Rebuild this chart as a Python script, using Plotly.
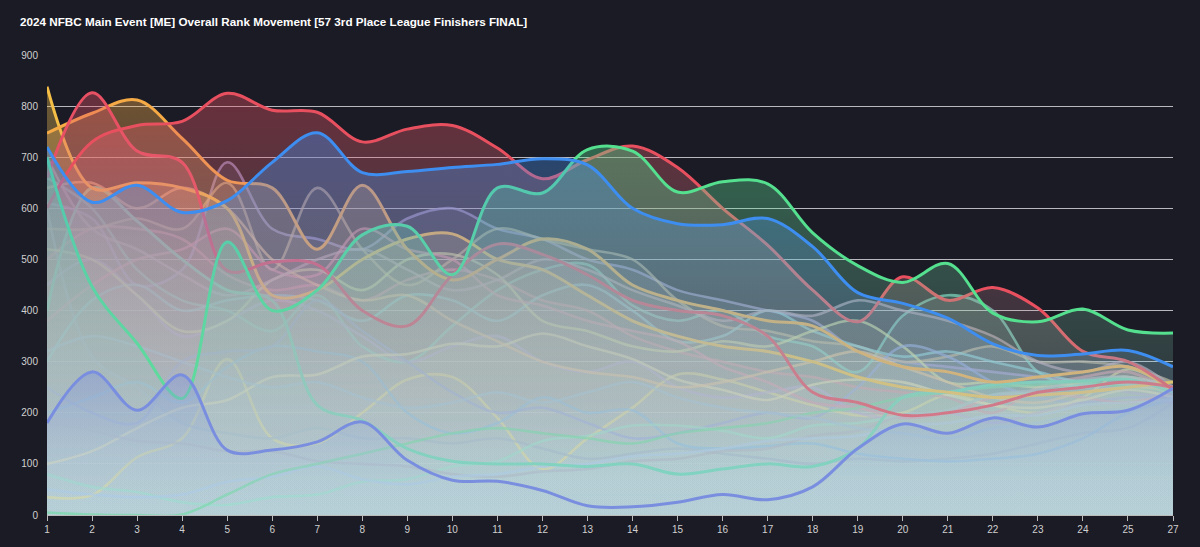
#!/usr/bin/env python3
# -*- coding: utf-8 -*-

import plotly.graph_objects as go

# week labels on the x axis (week 26 is missing in the source)
weeks = [str(w) for w in range(1, 26)] + ['27']

# highlighted teams (one per week)
red_a = [600, 730, 762, 770, 825, 792, 788, 730, 755, 762, 718, 658, 695,
         722, 680, 600, 528, 440, 378, 466, 420, 445, 405, 320, 300, 245]
red_b = [660, 826, 712, 690, 478, 495, 490, 400, 370, 470, 530, 510, 470,
         420, 400, 390, 350, 240, 220, 195, 200, 215, 240, 250, 260, 250]
orange = [747, 786, 812, 737, 655, 640, 520, 645, 520, 460, 500, 540, 520,
          450, 420, 400, 380, 370, 320, 290, 280, 260, 270, 280, 290, 245]
yellow = [838, 640, 650, 640, 600, 430, 440, 500, 540, 550, 500, 480, 430,
          380, 350, 330, 320, 300, 270, 250, 240, 230, 235, 240, 250, 260]
blue = [720, 612, 645, 592, 615, 690, 748, 670, 672, 680, 686, 697, 685,
        600, 570, 568, 580, 525, 435, 414, 385, 335, 312, 315, 322, 290]
green = [700, 447, 336, 228, 534, 400, 440, 548, 565, 470, 640, 630, 715,
         712, 632, 652, 648, 552, 488, 455, 492, 395, 378, 403, 362, 356]
mint = [400, 640, 575, 500, 440, 420, 215, 185, 130, 105, 100, 100, 95,
        100, 80, 90, 100, 95, 130, 230, 240, 255, 260, 262, 265, 240]
indigo = [180, 280, 205, 274, 127, 127, 143, 182, 107, 68, 66, 48, 18,
          16, 25, 40, 30, 55, 130, 178, 160, 190, 172, 198, 205, 248]

# the rest of the field (faded)
fa = [610, 580, 450, 480, 690, 560, 540, 520, 580, 600, 560, 540, 500,
      480, 440, 420, 400, 380, 320, 300, 290, 280, 270, 260, 240, 230]
fb = [660, 600, 480, 420, 400, 360, 430, 330, 300, 370, 440, 480, 490,
      410, 380, 400, 350, 330, 280, 390, 430, 400, 280, 250, 260, 250]
fc = [35, 39, 113, 150, 305, 150, 140, 200, 265, 270, 190, 90, 150,
      210, 275, 265, 240, 215, 195, 200, 235, 215, 200, 230, 285, 240]
fd = [600, 310, 250, 180, 160, 150, 170, 150, 150, 140, 150, 130, 110,
      120, 130, 120, 110, 100, 110, 105, 110, 120, 140, 160, 170, 220]
fe = [200, 230, 260, 220, 290, 330, 320, 300, 200, 160, 180, 230, 200,
      205, 140, 130, 135, 140, 120, 110, 105, 110, 120, 150, 200, 225]
fg = [500, 560, 560, 540, 470, 440, 450, 420, 460, 480, 460, 420, 400,
      350, 320, 300, 280, 270, 250, 240, 230, 200, 250, 270, 280, 240]
fh = [560, 560, 580, 560, 650, 480, 640, 520, 450, 500, 560, 540, 520,
      500, 420, 370, 360, 340, 330, 300, 310, 330, 300, 300, 290, 260]
fi = [450, 500, 430, 350, 380, 420, 400, 350, 300, 330, 350, 300, 280,
      300, 250, 230, 240, 250, 200, 190, 200, 180, 200, 220, 230, 220]
fj = [300, 420, 450, 400, 420, 430, 420, 380, 430, 420, 380, 430, 450,
      400, 340, 350, 400, 360, 330, 310, 320, 300, 280, 260, 270, 230]
fk = [520, 500, 430, 360, 380, 460, 480, 440, 500, 510, 470, 380, 360,
      330, 320, 340, 330, 360, 380, 330, 260, 260, 250, 260, 270, 250]
fl = [250, 200, 180, 300, 320, 330, 420, 360, 300, 240, 200, 210, 180,
      150, 160, 180, 200, 190, 250, 330, 310, 260, 230, 220, 230, 230]
fm = [380, 450, 500, 520, 560, 480, 470, 560, 520, 500, 430, 410, 380,
      360, 340, 290, 260, 220, 210, 190, 200, 230, 240, 230, 220, 240]
fn = [100, 125, 170, 210, 225, 270, 275, 310, 315, 335, 330, 355, 330,
      305, 265, 245, 225, 255, 265, 260, 235, 215, 210, 225, 245, 230]
fo = [80, 55, 45, 25, 20, 35, 40, 65, 70, 95, 105, 145, 155,
      175, 175, 165, 150, 175, 180, 195, 205, 235, 240, 255, 255, 240]
fp = [180, 165, 145, 140, 125, 125, 105, 100, 95, 80, 75, 85, 90,
      105, 110, 125, 130, 155, 165, 195, 205, 235, 245, 265, 270, 250]
fq = [50, 40, 35, 40, 65, 75, 95, 70, 60, 75, 80, 95, 100,
      115, 120, 130, 145, 150, 155, 175, 180, 195, 195, 215, 220, 225]
fr = [5, 1, 0, 1, 40, 80, 100, 120, 140, 160, 170, 160, 150,
      140, 160, 170, 180, 200, 210, 230, 240, 250, 255, 260, 250, 245]
ft = [640, 650, 600, 640, 600, 500, 450, 420, 430, 380, 340, 300, 280,
      270, 250, 260, 280, 300, 320, 290, 260, 230, 220, 240, 250, 245]
fu = [700, 560, 520, 470, 430, 460, 500, 520, 480, 440, 460, 500, 480,
      440, 410, 380, 400, 390, 420, 400, 380, 350, 300, 280, 300, 250]
fv = [320, 350, 330, 300, 270, 250, 260, 230, 210, 220, 240, 220, 240,
      260, 230, 210, 200, 190, 170, 160, 150, 170, 180, 200, 210, 230]

faded = [
    (fa, '167,154,214'), (fb, '127,214,196'), (fc, '230,220,140'),
    (fd, '154,176,200'), (fe, '127,184,230'), (fg, '217,138,160'),
    (fh, '200,176,144'), (fi, '176,164,216'), (fj, '136,208,216'),
    (fk, '214,224,154'), (fl, '142,160,224'), (fm, '224,138,168'),
    (fn, '232,224,176'), (fo, '144,224,200'), (fp, '168,174,192'),
    (fq, '166,200,236'), (fr, '90,220,150'), (ft, '240,192,144'),
    (fu, '190,160,180'), (fv, '150,190,220'),
]
# drawn in this order, each fill on top of the lines before it
bright = [
    (mint, '94,214,180'), (yellow, '245,190,70'), (orange, '245,170,70'),
    (red_b, '232,80,100'), (red_a, '232,80,95'), (green, '85,224,143'),
    (blue, '61,142,240'), (indigo, '122,142,224'),
]

BOTTOM = '186,212,220'

fig = go.Figure()

# the faded field: all fills first, then its lines
for vals, rgb in faded:
    fig.add_trace(go.Scatter(
        x=weeks, y=vals, mode='lines', line_shape='spline',
        line=dict(width=0), fill='tozeroy',
        fillgradient=dict(type='vertical', start=0, stop=max(vals),
                          colorscale=[[0, 'rgba(%s,0.17)' % BOTTOM],
                                      [1, 'rgba(%s,0.12)' % rgb]]),
        hoverinfo='skip'))
for vals, rgb in faded:
    fig.add_trace(go.Scatter(
        x=weeks, y=vals, mode='lines', line_shape='spline',
        line=dict(color='rgba(%s,0.7)' % rgb, width=2.6),
        hoverinfo='skip'))

# highlighted teams: fill and line together
for vals, rgb in bright:
    fig.add_trace(go.Scatter(
        x=weeks, y=vals, mode='lines', line_shape='spline',
        line=dict(color='rgb(%s)' % rgb, width=3), fill='tozeroy',
        fillgradient=dict(type='vertical', start=0, stop=max(vals),
                          colorscale=[[0, 'rgba(%s,0.04)' % BOTTOM],
                                      [1, 'rgba(%s,0.38)' % rgb]]),
        hoverinfo='skip'))

fig.update_layout(
    width=1200, height=547, showlegend=False,
    paper_bgcolor='#1b1b25', plot_bgcolor='#1b1b25',
    margin=dict(l=47, r=27, t=55, b=32),
    font=dict(family='Liberation Sans, Arial, sans-serif', color='#d0d0d0',
              size=10),
    title=dict(text='<b>2024 NFBC Main Event [ME] Overall Rank Movement '
                    '[57 3rd Place League Finishers FINAL]</b>',
               x=20 / 1200, xref='container', xanchor='left',
               y=1 - 22 / 547, yref='container', yanchor='middle',
               font=dict(size=11.7, color='white')),
)
fig.update_xaxes(type='category', range=[0, 25], showgrid=False,
                 showline=True, linecolor='#bbbbbb', linewidth=1,
                 ticks='outside', ticklen=5, tickcolor='#bbbbbb',
                 zeroline=False, fixedrange=True)
fig.update_yaxes(range=[0, 900], tickvals=list(range(0, 1000, 100)),
                 gridcolor='#b8b8be', gridwidth=1, zeroline=False,
                 showline=False, ticks='', ticklabelstandoff=8,
                 fixedrange=True)

# page body has a default margin; drop it so the figure fills the window
fig.write_html('out.html', config={'displayModeBar': False},
               post_script="document.body.style.margin='0';")
